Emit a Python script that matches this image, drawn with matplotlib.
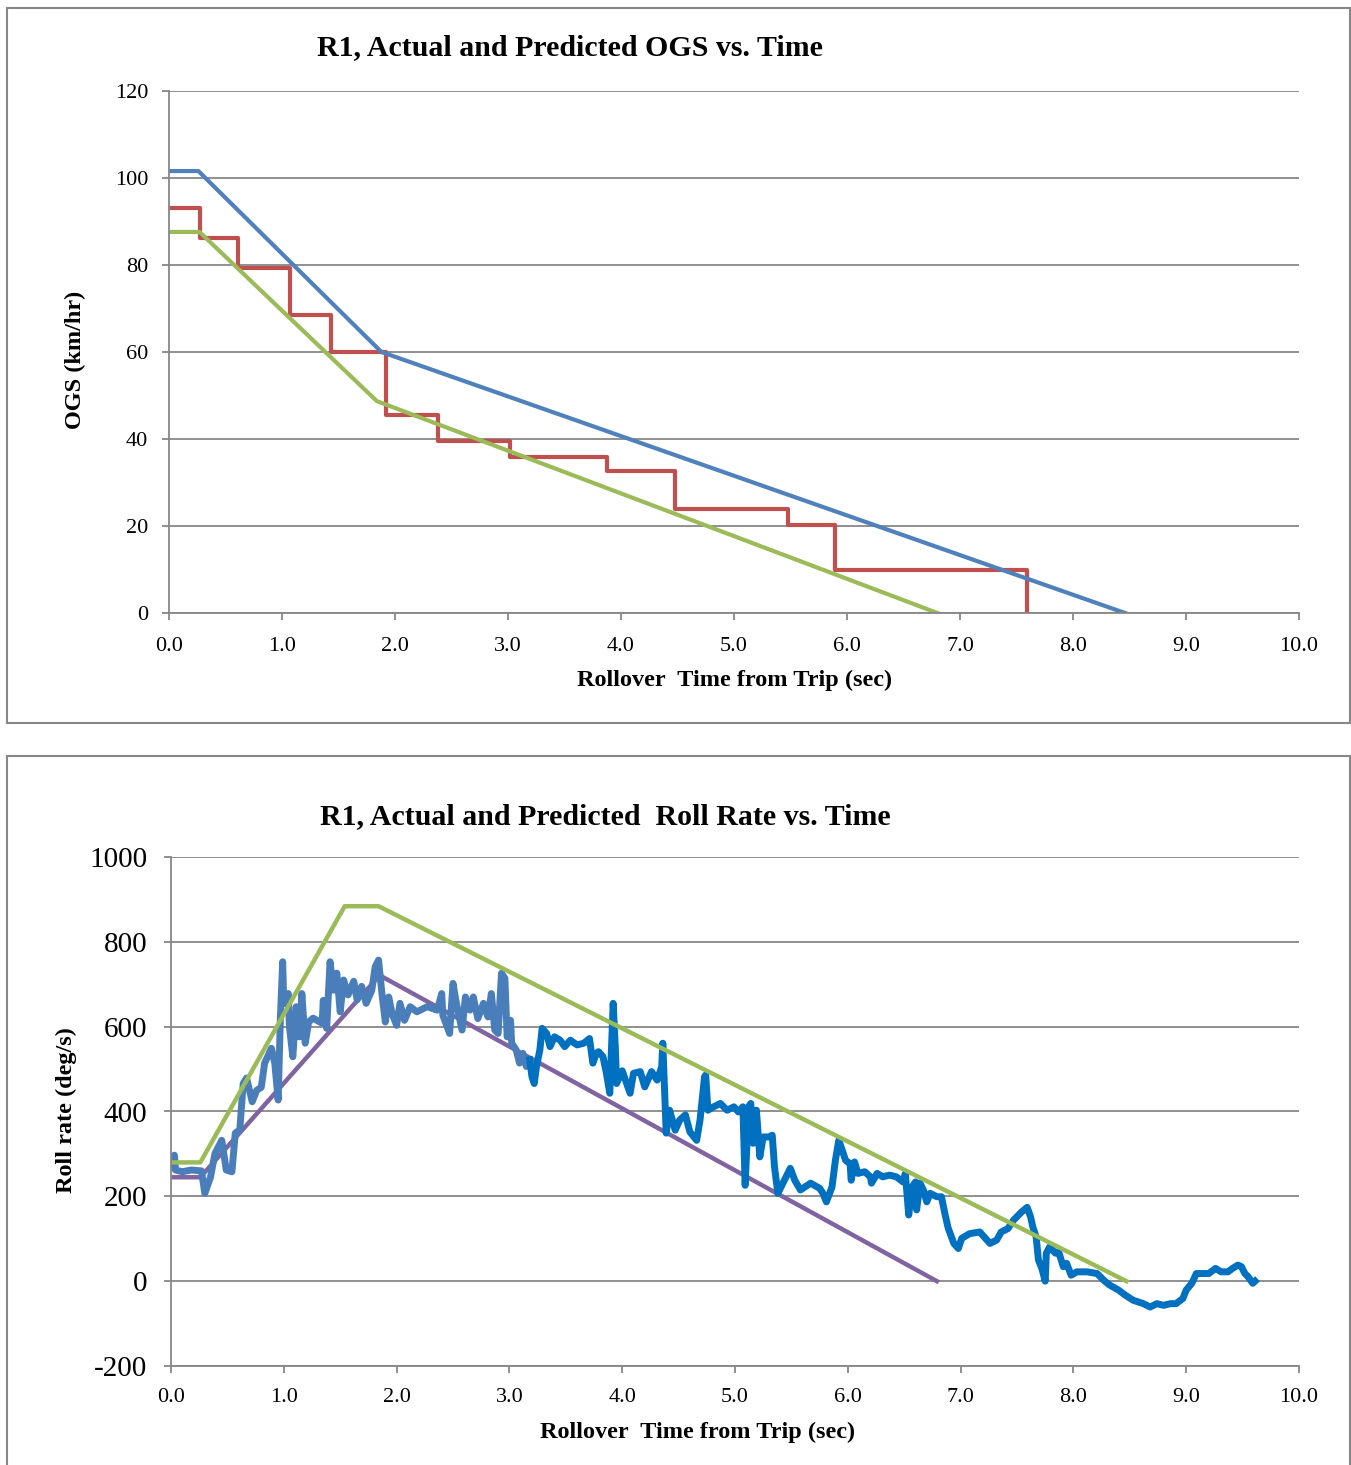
import matplotlib
matplotlib.use("Agg")
import matplotlib.pyplot as plt
from matplotlib.patches import Rectangle

plt.rcParams['font.family'] = ['Liberation Serif', 'DejaVu Serif']
plt.rcParams['axes.unicode_minus'] = False

W, H = 1351, 1465

# ---- top chart: OGS vs time ----
ogs_pred_t = [0.0, 0.26, 1.88, 8.46]
ogs_pred_v = [101.6, 101.6, 60.0, 0.0]

ogs_low_t = [0.0, 0.27, 1.84, 6.80]
ogs_low_v = [87.6, 87.6, 48.7, 0.0]

ogs_actual_t = [0.0, 0.27, 0.61, 1.07, 1.43, 1.92, 2.38, 3.02, 3.88, 4.48, 5.48, 5.89, 7.59]
ogs_actual_v = [93.0, 86.3, 79.4, 68.4, 60.0, 45.5, 39.6, 35.9, 32.7, 23.9, 20.3, 9.8, 0.0]

# ---- bottom chart: roll rate vs time ----
rr_upper_t = [0.0, 0.26, 1.54, 1.84, 8.47]
rr_upper_v = [280, 280, 884, 884, 0]

rr_lower_t = [0.0, 0.26, 1.85, 6.79]
rr_lower_v = [245, 245, 721, 0]

# measured roll rate, first part (lighter blue)
rr_meas1_t = [0.00, 0.03, 0.04, 0.10, 0.18, 0.27, 0.30, 0.35, 0.39, 0.45,
              0.49, 0.54, 0.57, 0.61, 0.64, 0.67, 0.72, 0.76, 0.80, 0.83,
              0.89, 0.92, 0.95, 0.97, 0.99, 1.00, 1.04, 1.05, 1.08, 1.11,
              1.14, 1.16, 1.19, 1.22, 1.26, 1.34, 1.35, 1.38, 1.41, 1.44,
              1.47, 1.50, 1.53, 1.57, 1.62, 1.65, 1.69, 1.73, 1.78, 1.81,
              1.84, 1.87, 1.90, 1.93, 1.96, 2.00, 2.03, 2.07, 2.12, 2.18,
              2.27, 2.36, 2.40, 2.41, 2.47, 2.50, 2.53, 2.58, 2.61, 2.65,
              2.68, 2.72, 2.77, 2.81, 2.84, 2.87, 2.90, 2.93, 2.96, 2.98,
              3.01, 3.02, 3.06, 3.09, 3.12, 3.15, 3.18]
rr_meas1_v = [269, 297, 262, 258, 262, 260, 207, 245, 301, 332,
              262, 258, 349, 357, 466, 479, 423, 450, 457, 514,
              549, 514, 427, 623, 753, 655, 678, 600, 529, 647,
              576, 678, 561, 611, 620, 608, 662, 596, 753, 686,
              726, 635, 710, 675, 707, 663, 695, 655, 686, 741,
              757, 678, 611, 670, 631, 603, 655, 615, 647, 635,
              647, 639, 678, 627, 584, 702, 655, 592, 670, 639,
              670, 619, 655, 623, 678, 592, 584, 726, 714, 576,
              615, 561, 545, 514, 537, 506, 522]

# measured roll rate, second part (darker blue)
rr_meas2_t = [3.18, 3.20, 3.22, 3.24, 3.27, 3.29, 3.33, 3.36, 3.40, 3.45,
              3.49, 3.54, 3.60, 3.66, 3.71, 3.74, 3.77, 3.79, 3.83, 3.86,
              3.89, 3.92, 3.94, 3.95, 4.00, 4.04, 4.07, 4.10, 4.16, 4.20,
              4.26, 4.31, 4.35, 4.36, 4.39, 4.42, 4.47, 4.51, 4.56, 4.60,
              4.66, 4.69, 4.73, 4.74, 4.76, 4.81, 4.87, 4.93, 4.99, 5.03,
              5.07, 5.09, 5.12, 5.14, 5.16, 5.19, 5.22, 5.25, 5.30, 5.33,
              5.35, 5.38, 5.43, 5.49, 5.53, 5.58, 5.67, 5.75, 5.78, 5.81,
              5.86, 5.89, 5.92, 5.95, 5.98, 6.02, 6.03, 6.06, 6.09, 6.15,
              6.20, 6.21, 6.26, 6.31, 6.37, 6.43, 6.49, 6.51, 6.54, 6.57,
              6.60, 6.61, 6.64, 6.67, 6.70, 6.73, 6.79, 6.83, 6.86, 6.89,
              6.94, 6.98, 7.01, 7.08, 7.17, 7.22, 7.26, 7.32, 7.36, 7.42,
              7.47, 7.54, 7.59, 7.62, 7.64, 7.67, 7.69, 7.72, 7.75, 7.76,
              7.79, 7.84, 7.87, 7.91, 7.94, 7.98, 8.03, 8.12, 8.21, 8.27,
              8.32, 8.40, 8.46, 8.53, 8.62, 8.68, 8.74, 8.80, 8.86, 8.91,
              8.97, 9.00, 9.05, 9.09, 9.15, 9.20, 9.26, 9.31, 9.37, 9.41,
              9.46, 9.49, 9.52, 9.55, 9.59, 9.61]
rr_meas2_v = [522, 482, 466, 506, 545, 596, 584, 553, 576, 568,
              553, 568, 557, 561, 572, 514, 537, 541, 529, 490,
              443, 655, 545, 466, 496, 466, 443, 490, 494, 458,
              494, 474, 505, 561, 349, 403, 356, 380, 392, 352,
              332, 380, 482, 486, 403, 411, 419, 403, 411, 399,
              411, 226, 411, 419, 325, 403, 293, 340, 340, 344,
              270, 207, 234, 266, 238, 215, 231, 219, 207, 187,
              222, 285, 332, 309, 285, 277, 238, 281, 254, 258,
              246, 231, 254, 246, 250, 246, 234, 254, 156, 222,
              234, 168, 231, 215, 187, 207, 199, 199, 160, 125,
              89, 77, 101, 112, 116, 101, 89, 97, 116, 124,
              144, 163, 174, 152, 128, 104, 50, 30, 0, 66,
              81, 66, 69, 34, 42, 14, 22, 22, 18, 2,
              -9, -21, -33, -45, -53, -61, -53, -57, -53, -53,
              -41, -21, -5, 18, 18, 18, 30, 22, 22, 30,
              38, 34, 18, 10, -5, 0]

x_ticks = [0, 1, 2, 3, 4, 5, 6, 7, 8, 9, 10]

GRAY = '#878787'


def fx(px):
    return px / W


def fy(py):
    return 1 - py / H


def style_axes(ax, ylab_size, ylab_pad, xlab_pad):
    for side in ['top', 'right']:
        ax.spines[side].set_visible(False)
    for side in ['left', 'bottom']:
        ax.spines[side].set_color(GRAY)
        ax.spines[side].set_linewidth(1.3)
    ax.grid(axis='y', color=GRAY, linewidth=1.3)
    ax.set_axisbelow(True)
    ax.tick_params(axis='both', direction='out', length=5, width=1.3, color=GRAY)
    ax.tick_params(axis='y', labelsize=ylab_size, pad=ylab_pad)
    ax.tick_params(axis='x', labelsize=16, pad=xlab_pad)
    ax.set_xlim(0, 10)
    ax.set_xticks(x_ticks)
    ax.set_xticklabels([f"{t:.1f}" for t in x_ticks])


fig = plt.figure(figsize=(W / 100, H / 100), dpi=100)

# panel frames
fig.add_artist(Rectangle((fx(7), fy(723)), fx(1350) - fx(7), fy(8) - fy(723),
                         transform=fig.transFigure, fill=False, edgecolor=GRAY, linewidth=1.5))
fig.add_artist(Rectangle((fx(7), fy(1475)), fx(1350) - fx(7), fy(756) - fy(1475),
                         transform=fig.transFigure, fill=False, edgecolor=GRAY, linewidth=1.5))

# top chart
ax1 = fig.add_axes([fx(169), fy(613), fx(1299) - fx(169), fy(91) - fy(613)])
style_axes(ax1, 16, 10, 12)
ax1.set_ylim(0, 120)
ax1.set_yticks(range(0, 121, 20))
ax1.plot(ogs_actual_t, ogs_actual_v, color='#C0504D', linewidth=3.0, drawstyle='steps-post')
ax1.plot(ogs_pred_t, ogs_pred_v, color='#4F81BD', linewidth=3.0)
ax1.plot(ogs_low_t, ogs_low_v, color='#9BBB59', linewidth=3.0)

fig.text(fx(570), fy(48), "R1, Actual and Predicted OGS vs. Time", ha='center', va='center',
         fontsize=21.5, fontweight='bold')
fig.text(fx(735), fy(680), "Rollover  Time from Trip (sec)", ha='center', va='center',
         fontsize=17.5, fontweight='bold')
fig.text(fx(75), fy(360), "OGS (km/hr)", ha='center', va='center', rotation=90,
         fontsize=17.5, fontweight='bold')

# bottom chart
ax2 = fig.add_axes([fx(171), fy(1366), fx(1299) - fx(171), fy(857) - fy(1366)])
style_axes(ax2, 21, 12, 11)
ax2.set_ylim(-200, 1000)
ax2.set_yticks(range(-200, 1001, 200))
ax2.plot(rr_lower_t, rr_lower_v, color='#8064A2', linewidth=3.2)
ax2.plot(rr_meas1_t, rr_meas1_v, color='#4A7EBB', linewidth=5, solid_joinstyle='round')
ax2.plot(rr_meas2_t, rr_meas2_v, color='#0070C0', linewidth=5, solid_joinstyle='round')
ax2.plot(rr_upper_t, rr_upper_v, color='#9BBB59', linewidth=3.2)

fig.text(fx(605), fy(817), "R1, Actual and Predicted  Roll Rate vs. Time", ha='center', va='center',
         fontsize=21.5, fontweight='bold')
fig.text(fx(698), fy(1432), "Rollover  Time from Trip (sec)", ha='center', va='center',
         fontsize=17.5, fontweight='bold')
fig.text(fx(66), fy(1110), "Roll rate (deg/s)", ha='center', va='center', rotation=90,
         fontsize=17.5, fontweight='bold')

fig.savefig("out.png", dpi=100)
